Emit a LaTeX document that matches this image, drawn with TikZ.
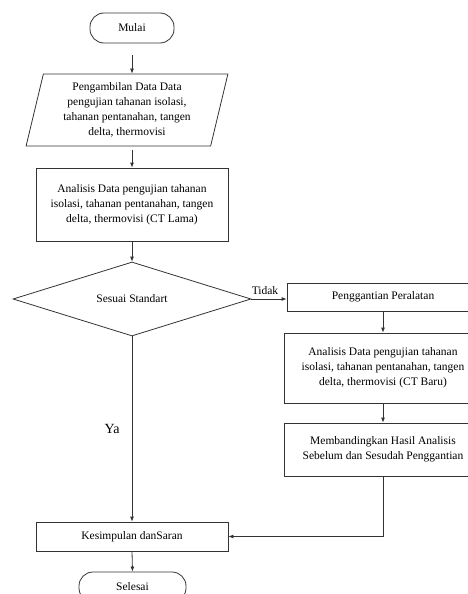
\documentclass[tikz,border=0pt]{standalone}
\usepackage{fontspec}
\setmainfont{Liberation Serif}
\usetikzlibrary{shapes.geometric,arrows.meta}
\begin{document}
\begin{tikzpicture}[x=1pt,y=-1pt,line width=0.8pt,
	every node/.style={font=\fontsize{11.5}{15}\selectfont,align=center,inner sep=2pt},
	term/.style={draw=black!80,rounded corners=14pt,minimum height=30pt},
	proc/.style={draw=black!80,rectangle},
	io/.style={draw=black!80,trapezium,trapezium left angle=77,trapezium right angle=103,
		trapezium stretches=true,minimum width=202pt,minimum height=72pt},
	dec/.style={draw=black!80,diamond,aspect=3.2,inner sep=0,minimum width=238pt,minimum height=74pt},
	arr/.style={draw=black!80,-{Latex[length=5pt,width=4pt]}}]
\useasboundingbox (0,0) rectangle (468,594);
\node[term,minimum width=84pt] (mulai) at (132,28) {Mulai};
\node[io] (data) at (127,110) {Pengambilan Data Data\\pengujian tahanan isolasi,\\tahanan pentanahan, tangen\\delta, thermovisi};
\node[proc,minimum width=192pt,minimum height=73pt] (lama) at (132,204.5) {Analisis Data pengujian tahanan\\isolasi, tahanan pentanahan, tangen\\delta, thermovisi (CT Lama)};
\node[dec] (cek) at (132,299) {Sesuai Standart};
\node[proc,minimum width=192pt,minimum height=28pt] (ganti) at (383,297) {Penggantian Peralatan};
\node[proc,minimum width=198pt,minimum height=70pt] (baru) at (383,368) {Analisis Data pengujian tahanan\\isolasi, tahanan pentanahan, tangen\\delta, thermovisi (CT Baru)};
\node[proc,minimum width=198pt,minimum height=53pt] (banding) at (383,449.5) {Membandingkan Hasil Analisis\\Sebelum dan Sesudah Penggantian};
\node[proc,minimum width=192pt,minimum height=29pt] (simpul) at (132,536.5) {Kesimpulan danSaran};
\node[term,minimum width=107pt] (selesai) at (132.5,587) {Selesai};
\node[anchor=south west,inner xsep=0pt,inner ysep=4pt] (tidak) at (cek.east) {Tidak};
\draw[arr,shorten <=12pt] (mulai.south) -- (mulai.south |- data.north);
\draw[arr,shorten <=4pt] (lama.north |- data.south) -- (lama.north);
\draw[arr] (lama.south) -- (cek.north);
\draw[arr] (cek.east) -- (cek.east -| ganti.west);
\draw[arr] (ganti.south) -- (baru.north);
\draw[arr] (baru.south) -- (banding.north);
\draw[arr] (banding.south) |- (simpul.east);
\draw[arr] (cek.south) -- node[midway,left=10pt,font=\fontsize{14}{16}\selectfont] (ya) {Ya} (simpul.north);
\draw[arr] (simpul.south) -- (selesai.north);
\end{tikzpicture}
\end{document}
